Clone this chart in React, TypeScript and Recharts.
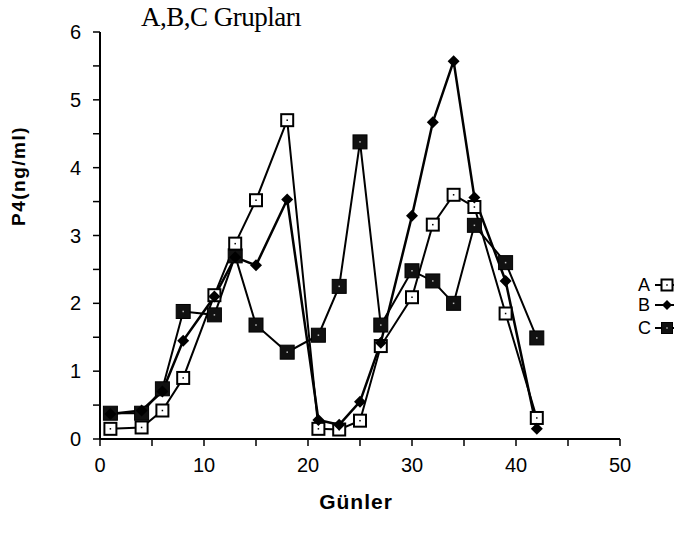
import React from "react";
import { LineChart, Line, XAxis, YAxis } from "recharts";

// days of sampling
const days = [1, 4, 6, 8, 11, 13, 15, 18, 21, 23, 25, 27, 30, 32, 34, 36, 39, 42];

// P4 (ng/ml) per group
const groupA = [0.15, 0.17, 0.42, 0.9, 2.12, 2.88, 3.52, 4.7, 0.15, 0.14, 0.27, 1.37, 2.09, 3.16, 3.6, 3.42, 1.85, 0.31];
const groupB = [0.37, 0.42, 0.7, 1.45, 2.1, 2.68, 2.56, 3.53, 0.28, 0.21, 0.55, 1.42, 3.29, 4.67, 5.57, 3.56, 2.33, 0.15];
const groupC = [0.38, 0.38, 0.74, 1.88, 1.83, 2.7, 1.68, 1.28, 1.53, 2.25, 4.38, 1.68, 2.48, 2.33, 2.0, 3.15, 2.6, 1.49];

const xTicks = [0, 5, 10, 15, 20, 25, 30, 35, 40, 45, 50];
const yTicks = [0, 0.5, 1, 1.5, 2, 2.5, 3, 3.5, 4, 4.5, 5, 5.5, 6];

const seriesNames = ["A", "B", "C"];

const data = days.map((d, i) => ({ day: d, A: groupA[i], B: groupB[i], C: groupC[i] }));

const sansTick = { fontSize: 20, fill: "#000", fontFamily: "'Liberation Sans', Arial, sans-serif" };

function OpenSquare({ cx, cy, size = 12 }: { cx: number; cy: number; size?: number }) {
  return (
    <g>
      <rect x={cx - size / 2} y={cy - size / 2} width={size} height={size} fill="#fff" stroke="#000" strokeWidth={2} />
      <rect x={cx - 0.75} y={cy - 0.75} width={1.5} height={1.5} fill="#000" />
    </g>
  );
}

function Diamond({ cx, cy, r = 6 }: { cx: number; cy: number; r?: number }) {
  return <path d={`M${cx},${cy - r}L${cx + r},${cy}L${cx},${cy + r}L${cx - r},${cy}Z`} fill="#000" />;
}

function FilledSquare({ cx, cy, size = 14 }: { cx: number; cy: number; size?: number }) {
  return (
    <g>
      <rect x={cx - size / 2} y={cy - size / 2} width={size} height={size} fill="#111" stroke="#000" strokeWidth={1} />
      <rect x={cx - 0.75} y={cy - 0.75} width={1.5} height={1.5} fill="#bbb" />
    </g>
  );
}

// legend drawn beside the plot, like the original figure
function LegendBox() {
  const rows = [
    { name: seriesNames[0], y: 12, mark: (x: number, y: number) => <OpenSquare cx={x} cy={y} size={11} /> },
    { name: seriesNames[1], y: 32, mark: (x: number, y: number) => <Diamond cx={x} cy={y} r={5} /> },
    { name: seriesNames[2], y: 55, mark: (x: number, y: number) => <FilledSquare cx={x} cy={y} size={11} /> },
  ];
  return (
    <svg width={60} height={70} style={{ position: "absolute", left: 628, top: 273 }}>
      {rows.map((r) => (
        <g key={r.name}>
          <text x={10} y={r.y + 6} fontSize={18} fontFamily="'Liberation Sans', Arial, sans-serif" fill="#000">
            {r.name}
          </text>
          <line x1={27} x2={46} y1={r.y} y2={r.y} stroke="#000" strokeWidth={2} />
          {r.mark(39, r.y)}
        </g>
      ))}
    </svg>
  );
}

export default function App() {
  return (
    <div style={{ position: "relative", width: 697, height: 534, background: "#fff" }}>
      <style>{`body{margin:0}`}</style>
      <LineChart width={697} height={534} data={data} margin={{ top: 32, right: 77, bottom: 55, left: 60 }}>
        <XAxis
          dataKey="day"
          type="number"
          domain={[0, 50]}
          ticks={xTicks}
          interval={0}
          height={40}
          tick={sansTick}
          tickFormatter={(v) => (v % 10 === 0 ? String(v) : "")}
          tickSize={7}
          tickMargin={12}
          axisLine={{ stroke: "#000", strokeWidth: 2 }}
          tickLine={{ stroke: "#000", strokeWidth: 1.5 }}
        />
        <YAxis
          type="number"
          domain={[0, 6]}
          ticks={yTicks}
          interval={0}
          width={40}
          tick={sansTick}
          tickFormatter={(v) => (v % 1 === 0 ? String(v) : "")}
          tickSize={7}
          tickMargin={12}
          axisLine={{ stroke: "#000", strokeWidth: 2 }}
          tickLine={{ stroke: "#000", strokeWidth: 1.5 }}
        />
        <Line
          dataKey="C"
          stroke="#000"
          strokeWidth={2}
          isAnimationActive={false}
          dot={(p: any) => <FilledSquare key={`c-${p.index}`} cx={p.cx} cy={p.cy} />}
          activeDot={false}
        />
        <Line
          dataKey="A"
          stroke="#000"
          strokeWidth={2}
          isAnimationActive={false}
          dot={(p: any) => <OpenSquare key={`a-${p.index}`} cx={p.cx} cy={p.cy} />}
          activeDot={false}
        />
        <Line
          dataKey="B"
          stroke="#000"
          strokeWidth={2.5}
          isAnimationActive={false}
          dot={(p: any) => <Diamond key={`b-${p.index}`} cx={p.cx} cy={p.cy} />}
          activeDot={false}
        />
      </LineChart>
      <LegendBox />
      <div
        style={{
          position: "absolute",
          left: 141,
          top: 2,
          lineHeight: "30px",
          fontFamily: "'Liberation Serif', 'Times New Roman', serif",
          fontSize: 27,
          letterSpacing: -0.5,
          color: "#000",
          whiteSpace: "nowrap",
        }}
      >
        A,B,C Grupları
      </div>
      <div
        style={{
          position: "absolute",
          left: 0,
          top: 0,
          width: 38,
          height: 352,
          display: "flex",
          alignItems: "center",
          justifyContent: "center",
        }}
      >
        <div
          style={{
            transform: "rotate(-90deg)",
            whiteSpace: "nowrap",
            fontFamily: "'Liberation Sans', Arial, sans-serif",
            fontWeight: 700,
            fontSize: 19,
            letterSpacing: 1.5,
            color: "#000",
          }}
        >
          P4(ng/ml)
        </div>
      </div>
      <div
        style={{
          position: "absolute",
          left: 310,
          top: 490,
          width: 92,
          textAlign: "center",
          fontFamily: "'Liberation Sans', Arial, sans-serif",
          fontWeight: 700,
          fontSize: 21,
          letterSpacing: 1,
          color: "#000",
        }}
      >
        Günler
      </div>
    </div>
  );
}
